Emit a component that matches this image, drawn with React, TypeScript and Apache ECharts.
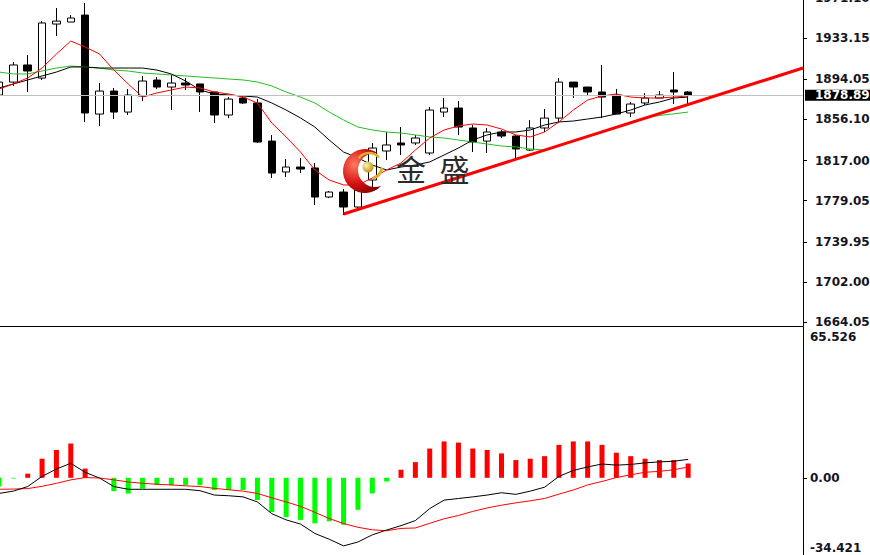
import React, { useEffect, useRef } from 'react';
import * as echarts from 'echarts';

// ---- data ----
const slotCount = 57; // bar slots across the price window (49 bars + empty room on the right)
const opens = [1879.1, 1891.4, 1907.6, 1895.2, 1946.4, 1948.3, 1954.9, 1861.1, 1882.9, 1863.0, 1878.2, 1893.3, 1886.7, 1890.5, 1889.6, 1882.0, 1860.2, 1876.3, 1871.6, 1835.5, 1806.2, 1810.9, 1810.0, 1782.5, 1787.2, 1773.0, 1798.6, 1826.1, 1833.7, 1833.7, 1824.2, 1863.0, 1866.8, 1847.9, 1835.5, 1844.1, 1840.3, 1827.0, 1847.9, 1857.3, 1891.4, 1886.7, 1882.0, 1879.1, 1862.1, 1871.6, 1876.3, 1883.9, 1882.0];
const closes = [1891.4, 1907.6, 1901.9, 1947.4, 1949.2, 1952.1, 1862.1, 1882.9, 1863.0, 1879.1, 1892.4, 1886.7, 1890.5, 1888.6, 1882.0, 1860.2, 1875.3, 1871.6, 1834.6, 1805.2, 1810.9, 1809.0, 1782.5, 1787.2, 1773.0, 1789.1, 1828.9, 1831.8, 1831.8, 1838.4, 1864.9, 1866.8, 1848.8, 1834.6, 1844.1, 1840.3, 1828.0, 1847.9, 1857.3, 1891.4, 1886.7, 1882.0, 1877.2, 1861.1, 1870.6, 1876.3, 1879.1, 1882.0, 1878.89];
const lows = [1876.3, 1887.7, 1882.0, 1893.3, 1935.0, 1948.3, 1853.5, 1849.8, 1856.4, 1860.2, 1873.4, 1884.8, 1864.9, 1883.9, 1863.0, 1852.6, 1857.3, 1870.6, 1833.7, 1800.5, 1801.4, 1805.2, 1774.9, 1781.5, 1765.4, 1772.1, 1789.1, 1817.5, 1822.3, 1831.8, 1822.3, 1858.3, 1841.2, 1825.1, 1824.2, 1838.4, 1819.4, 1826.1, 1844.1, 1852.6, 1876.3, 1878.2, 1857.3, 1861.1, 1858.3, 1869.7, 1876.3, 1870.6, 1870.6];
const highs = [1895.2, 1910.4, 1917.0, 1949.2, 1961.6, 1954.9, 1966.3, 1890.5, 1885.8, 1884.8, 1897.1, 1896.2, 1898.1, 1895.2, 1889.6, 1882.0, 1877.2, 1878.2, 1875.3, 1841.2, 1818.5, 1819.4, 1814.7, 1788.2, 1790.1, 1803.3, 1833.7, 1844.1, 1848.8, 1841.2, 1867.8, 1876.3, 1873.4, 1850.7, 1847.9, 1846.0, 1841.2, 1855.4, 1865.9, 1895.2, 1891.4, 1886.7, 1907.6, 1884.8, 1872.5, 1881.0, 1882.9, 1900.9, 1882.9];

const maRed = [1884.8, 1889.6, 1895.3, 1904.7, 1918.0, 1930.3, 1924.6, 1918.0, 1902.8, 1889.6, 1877.2, 1881.1, 1883.9, 1886.7, 1885.8, 1882.0, 1880.1, 1877.2, 1871.6, 1852.6, 1839.4, 1825.1, 1808.1, 1798.6, 1793.9, 1793.9, 1800.5, 1808.1, 1814.7, 1827.0, 1838.4, 1846.0, 1849.8, 1851.7, 1850.7, 1846.9, 1841.3, 1839.4, 1844.1, 1853.6, 1864.9, 1874.4, 1878.2, 1880.1, 1877.2, 1876.3, 1876.3, 1877.2, 1878.2];
const maBlack = [1885.8, 1889.6, 1893.4, 1897.2, 1900.9, 1905.7, 1905.7, 1904.7, 1904.7, 1904.7, 1904.7, 1902.8, 1899.1, 1892.4, 1883.9, 1880.1, 1879.2, 1878.2, 1877.2, 1871.6, 1864.9, 1857.4, 1848.8, 1836.5, 1825.1, 1819.5, 1812.8, 1808.1, 1810.9, 1812.8, 1815.7, 1822.3, 1828.9, 1836.5, 1841.3, 1844.1, 1844.1, 1846.0, 1850.7, 1853.6, 1854.5, 1856.4, 1858.3, 1861.2, 1864.9, 1869.7, 1872.5, 1876.3, 1877.2];
const maGreen = [1900.9, 1899.1, 1899.1, 1901.9, 1904.7, 1906.6, 1905.7, 1904.7, 1902.8, 1901.9, 1900.0, 1899.1, 1898.1, 1897.2, 1896.2, 1895.3, 1894.3, 1893.4, 1891.5, 1887.7, 1882.0, 1877.2, 1871.6, 1863.0, 1855.5, 1848.8, 1846.0, 1844.1, 1843.1, 1841.3, 1839.4, 1838.4, 1836.5, 1834.6, 1832.7, 1830.8, 1829.9, 1828.0, 1827.0, 1831.3, 1835.6, 1839.8, 1844.1, 1848.8, 1853.6, 1857.8, 1859.7, 1861.3, 1863.0];

const trendIdx = [24, 56];
const trendVal = [1766.4, 1904.7];

const lastPrice = 1878.89;
const priceTicks = [1664.05, 1702.0, 1739.95, 1779.05, 1817.0, 1856.1, 1894.05, 1933.15, 1971.1];
const priceMin = 1660.26;
const priceMax = 1972.02;

const macdHist = [-3.8, -0.3, 1.8, 8.3, 12.1, 14.9, 4.0, 0, -5.8, -6.8, -4.7, -3.2, -3.2, -3.2, -3.2, -5.3, -5.3, -5.3, -9.7, -14.9, -17.1, -18.3, -19.8, -18.9, -20.4, -13.9, -6.8, -1.6, 3.5, 6.8, 12.7, 15.8, 15.3, 12.7, 12.1, 10.6, 7.7, 8.3, 9.4, 14.3, 15.8, 15.8, 14.3, 10.9, 9.4, 8.3, 7.7, 7.7, 6.2];
const macdMain = [-6.8, -5.8, -3.8, 0.6, 3.8, 6.3, 2.4, -0.1, -3.8, -5.0, -5.0, -5.0, -5.0, -5.0, -5.6, -7.5, -7.8, -8.3, -10.5, -15.6, -18.3, -20.1, -24.2, -26.7, -29.6, -27.9, -24.8, -22.7, -20.8, -18.6, -13.4, -9.7, -9.0, -8.3, -7.5, -6.5, -7.2, -5.8, -4.1, 0.6, 3.2, 4.7, 6.0, 5.5, 5.8, 6.5, 6.9, 7.2, 8.0];
const macdSignal = [-5.0, -4.9, -4.7, -3.7, -2.4, -0.9, 0.1, -0.1, -0.9, -1.8, -2.4, -2.8, -3.1, -3.5, -3.8, -4.6, -5.2, -5.8, -6.8, -8.7, -10.5, -12.4, -15.0, -17.7, -19.9, -21.5, -22.6, -23.0, -22.0, -21.8, -19.8, -17.8, -16.4, -14.6, -13.1, -11.9, -10.9, -10.0, -9.0, -7.1, -5.3, -3.1, -1.6, 0.1, 1.3, 2.4, 2.8, 3.5, 4.7];
const macdTicks = [-34.421, 0, 65.526];
const macdTickLabels = ['-34.421', '0.00', '65.526'];

const categories = Array.from({ length: slotCount }, (_, i) => String(i));

const FONT = 'DejaVu Sans';
const AXIS_TEXT = '#15151f';

const crescentPath =
  'M378,153.3 A22,22 0 1 0 381.3,185.8 A17,17 0 1 1 378,153.3 Z';
let registered = false;
function ensureShapes() {
  if (registered) return;
  echarts.graphic.registerShape('crescent', echarts.graphic.extendPath(crescentPath, {}) as any);
  registered = true;
}

function buildOption(): any {
  const candles = opens.map((o, i) => [o, closes[i], lows[i], highs[i]]);
  const trend = trendIdx.map((x, i) => [x, trendVal[i]]);
  const lineBase = (name: string, data: number[], color: string, width = 1) => ({
    name,
    type: 'line',
    xAxisIndex: 0,
    yAxisIndex: 0,
    data,
    symbol: 'none',
    z: 3,
    lineStyle: { color, width },
    silent: true,
  });
  const labelFont = { fontSize: 12, fontWeight: 'bold', fontFamily: FONT, color: AXIS_TEXT };
  return {
    animation: false,
    backgroundColor: '#ffffff',
    grid: [
      { left: -1, top: -3, width: 804, height: 329, outerBoundsMode: 'none', containLabel: false },
      { left: -1, top: 327, width: 804, height: 230, outerBoundsMode: 'none', containLabel: false },
    ],
    xAxis: [
      {
        type: 'category',
        gridIndex: 0,
        data: categories,
        boundaryGap: false,
        axisLine: { show: true, onZero: false, lineStyle: { color: '#000', width: 1 } },
        axisTick: { show: false },
        axisLabel: { show: false },
        splitLine: { show: false },
      },
      {
        type: 'category',
        gridIndex: 1,
        data: categories,
        boundaryGap: false,
        axisLine: { show: false },
        axisTick: { show: false },
        axisLabel: { show: false },
        splitLine: { show: false },
      },
    ],
    yAxis: [
      {
        type: 'value',
        gridIndex: 0,
        position: 'right',
        min: priceMin,
        max: priceMax,
        axisLine: { show: true, lineStyle: { color: '#000', width: 1 } },
        axisTick: { show: true, length: 4, lineStyle: { color: '#000' }, customValues: priceTicks },
        axisLabel: {
          customValues: priceTicks,
          formatter: (v: number) => v.toFixed(2),
          margin: 12,
          ...labelFont,
        },
        splitLine: { show: false },
      },
      {
        type: 'value',
        gridIndex: 1,
        position: 'right',
        min: macdTicks[0],
        max: macdTicks[2],
        axisLine: { show: true, lineStyle: { color: '#000', width: 1 } },
        axisTick: { show: true, length: 4, lineStyle: { color: '#000' }, customValues: [macdTicks[1]] },
        axisLabel: {
          customValues: macdTicks,
          margin: 7,
          ...labelFont,
          formatter: (v: number) => {
            const i = macdTicks.findIndex((t) => Math.abs(t - v) < 1e-6);
            const t = i >= 0 ? macdTickLabels[i] : String(v);
            if (i === 2) return '{top|' + t + '}';
            if (i === 0) return '{bot|' + t + '}';
            return t;
          },
          rich: {
            top: { padding: [20, 0, 0, 0], ...labelFont },
            bot: { padding: [0, 0, 18, 0], ...labelFont },
          },
        },
        splitLine: { show: false },
      },
    ],
    series: [
      {
        name: 'bid',
        type: 'line',
        xAxisIndex: 0,
        yAxisIndex: 0,
        data: [],
        z: 1,
        silent: true,
        markLine: {
          silent: true,
          symbol: ['none', 'none'],
          animation: false,
          lineStyle: { color: '#c0c0c0', width: 1, type: 'solid' },
          label: {
            show: true,
            position: 'end',
            distance: 2,
            formatter: lastPrice.toFixed(2),
            backgroundColor: '#000',
            color: '#fff',
            padding: [0, 4, 0, 10],
            lineHeight: 11,
            fontSize: 12,
            fontWeight: 'bold',
            fontFamily: FONT,
          },
          data: [{ yAxis: lastPrice }],
        },
      },
      {
        name: 'price',
        type: 'candlestick',
        xAxisIndex: 0,
        yAxisIndex: 0,
        data: candles,
        barWidth: 8,
        z: 2,
        silent: true,
        itemStyle: {
          color: '#ffffff',
          color0: '#000000',
          borderColor: '#000000',
          borderColor0: '#000000',
          borderWidth: 1,
        },
      },
      lineBase('MA green', maGreen, '#22c022'),
      lineBase('MA black', maBlack, '#000000'),
      lineBase('MA red', maRed, '#ff0000'),
      {
        name: 'trend',
        type: 'line',
        xAxisIndex: 0,
        yAxisIndex: 0,
        data: trend,
        symbol: 'none',
        z: 5,
        silent: true,
        lineStyle: { color: '#ff0000', width: 3 },
      },
      {
        name: 'hist',
        type: 'bar',
        xAxisIndex: 1,
        yAxisIndex: 1,
        barWidth: 5,
        silent: true,
        z: 2,
        data: macdHist.map((v) => ({ value: v, itemStyle: { color: v >= 0 ? '#ff0000' : '#00ff00' } })),
      },
      {
        name: 'MACD',
        type: 'line',
        xAxisIndex: 1,
        yAxisIndex: 1,
        data: macdMain,
        symbol: 'none',
        z: 4,
        silent: true,
        lineStyle: { color: '#000000', width: 1 },
      },
      {
        name: 'Signal',
        type: 'line',
        xAxisIndex: 1,
        yAxisIndex: 1,
        data: macdSignal,
        symbol: 'none',
        z: 3,
        silent: true,
        lineStyle: { color: '#ff0000', width: 1 },
      },
    ],
    graphic: [
      {
        type: 'crescent',
        x: 0,
        y: 0,
        z: 100,
        silent: true,
        style: {
          fill: new echarts.graphic.RadialGradient(0.3, 0.35, 0.8, [
            { offset: 0, color: '#ff7a60' },
            { offset: 0.55, color: '#d41212' },
            { offset: 1, color: '#7e0000' },
          ]),
        },
      },
      {
        type: 'arc',
        z: 101,
        silent: true,
        shape: { cx: 369, cy: 166, r: 13, startAngle: -2.5, endAngle: -0.7 },
        style: { stroke: '#d8b030', lineWidth: 2.5, fill: 'none' },
      },
      {
        type: 'arc',
        z: 101,
        silent: true,
        shape: { cx: 369, cy: 166, r: 13, startAngle: 0.15, endAngle: 1.25 },
        style: { stroke: '#d8b030', lineWidth: 3, fill: 'none' },
      },
      {
        type: 'circle',
        z: 102,
        silent: true,
        shape: { cx: 368, cy: 167, r: 5.5 },
        style: {
          fill: new echarts.graphic.RadialGradient(0.35, 0.35, 0.75, [
            { offset: 0, color: '#fff5a8' },
            { offset: 1, color: '#b38d0c' },
          ]),
        },
      },
      {
        type: 'text',
        z: 102,
        silent: true,
        x: 396,
        y: 153,
        style: {
          text: '金  盛',
          fontSize: 30,
          fontFamily: 'Noto Sans CJK SC',
          fill: '#2a2a2a',
          verticalAlign: 'top',
        },
      },
    ],
  };
}

export default function App() {
  const ref = useRef<HTMLDivElement | null>(null);
  useEffect(() => {
    document.body.style.margin = '0';
    if (!ref.current) return;
    ensureShapes();
    const chart = echarts.init(ref.current, undefined, { renderer: 'svg' });
    chart.setOption(buildOption());
    return () => {
      chart.dispose();
    };
  }, []);
  return <div ref={ref} style={{ width: 870, height: 555, background: '#fff' }} />;
}
